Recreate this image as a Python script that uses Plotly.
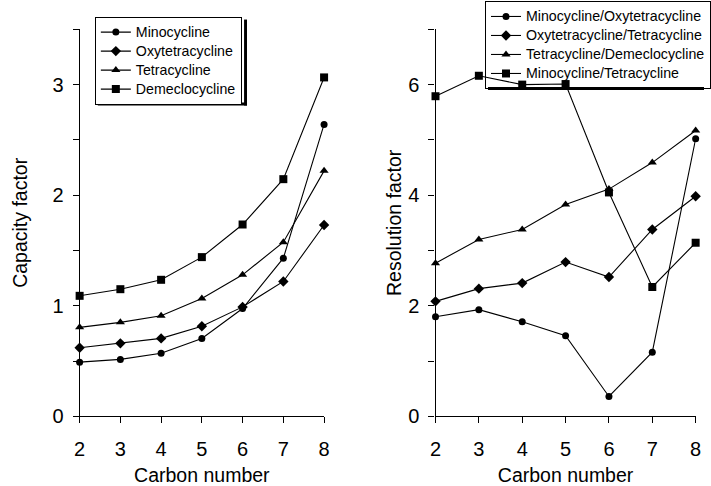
import plotly.graph_objects as go

carbon = [2, 3, 4, 5, 6, 7, 8]

# Capacity factor (left panel)
minocycline = [0.49, 0.515, 0.57, 0.705, 0.975, 1.43, 2.64]
oxytetracycline = [0.62, 0.66, 0.705, 0.815, 0.99, 1.22, 1.73]
tetracycline = [0.805, 0.85, 0.91, 1.065, 1.28, 1.575, 2.22]
demeclocycline = [1.09, 1.15, 1.235, 1.44, 1.735, 2.145, 3.065]

# Resolution factor (right panel)
mino_oxy = [1.80, 1.93, 1.71, 1.46, 0.36, 1.16, 5.02]
oxy_tet = [2.08, 2.31, 2.41, 2.79, 2.52, 3.38, 3.98]
tet_deme = [2.77, 3.20, 3.38, 3.83, 4.11, 4.59, 5.17]
mino_tet = [5.79, 6.16, 6.00, 6.01, 4.05, 2.34, 3.14]

left_names = ["Minocycline", "Oxytetracycline", "Tetracycline", "Demeclocycline"]
right_names = ["Minocycline/Oxytetracycline", "Oxytetracycline/Tetracycline",
               "Tetracycline/Demeclocycline", "Minocycline/Tetracycline"]
left_ticks = [0, 0.5, 1, 1.5, 2, 2.5, 3, 3.5]
left_ticktext = ["0", "", "1", "", "2", "", "3", ""]
right_ticks = [0, 1, 2, 3, 4, 5, 6, 7]
right_ticktext = ["0", "", "2", "", "4", "", "6", ""]

symbols = ["circle", "diamond", "triangle-up", "square"]
sizes = [7, 8, 8, 8]

FONT = "Liberation Sans, Arial, Helvetica, sans-serif"
LEG_PX = 14.2


def leg_label(t):
    return '<span style="font-size:%spx">%s</span>' % (LEG_PX, t)


fig = go.Figure()
for name, vals, sym, sz in zip(left_names, [minocycline, oxytetracycline, tetracycline, demeclocycline], symbols, sizes):
    fig.add_trace(go.Scatter(x=carbon, y=vals, name=leg_label(name), mode="lines+markers",
                             line=dict(color="black", width=1.1),
                             marker=dict(symbol=sym, size=sz, color="black"),
                             cliponaxis=False, xaxis="x", yaxis="y", legend="legend"))
for name, vals, sym, sz in zip(right_names, [mino_oxy, oxy_tet, tet_deme, mino_tet], symbols, sizes):
    fig.add_trace(go.Scatter(x=carbon, y=vals, name=leg_label(name), mode="lines+markers",
                             line=dict(color="black", width=1.1),
                             marker=dict(symbol=sym, size=sz, color="black"),
                             cliponaxis=False, xaxis="x2", yaxis="y2", legend="legend2"))

W, H = 711, 486


def px(x):
    return x / W


def py(y):
    return (H - y) / H


tickfont = dict(family=FONT, size=20, color="black")
titlefont = dict(family=FONT, size=19.5, color="black")

xcommon = dict(range=[2, 8], tickmode="array", tickvals=carbon, ticks="outside", ticklen=6,
               tickcolor="black", showline=True, linecolor="black", linewidth=1.2,
               showgrid=False, zeroline=False, tickfont=tickfont, ticklabelstandoff=9,
               title=dict(text="Carbon number", font=titlefont, standoff=12))
ycommon = dict(ticks="outside", ticklen=6, tickcolor="black", showline=True, linecolor="black",
               linewidth=1.2, showgrid=False, zeroline=False, tickfont=tickfont,
               tickmode="array", ticklabelstandoff=5)

# legend frame geometry (pixels) for drop shadows
L_x0, L_top, L_w, L_h = 90.5, 17, 152, 88
R_x0, R_top, R_w, R_h = 488, 1, 240, 88
SH = 3

fig.update_layout(
    width=W, height=H, margin=dict(l=0, r=0, t=0, b=0),
    paper_bgcolor="white", plot_bgcolor="white",
    font=dict(family=FONT, color="black"),
    xaxis=dict(domain=[px(75), px(324)], anchor="y", **xcommon),
    xaxis2=dict(domain=[px(437.5), px(702.5)], anchor="y2", **xcommon),
    yaxis=dict(domain=[py(426), py(30)], anchor="x", range=[0, 3.5], tickvals=left_ticks,
               ticktext=left_ticktext,
               title=dict(text="Capacity factor", font=titlefont, standoff=19), **ycommon),
    yaxis2=dict(domain=[py(426), py(30)], anchor="x2", range=[0, 7], tickvals=right_ticks,
                ticktext=right_ticktext,
                title=dict(text="Resolution factor", font=titlefont, standoff=1), **ycommon),
    legend=dict(x=px(L_x0), y=py(L_top), xanchor="left", yanchor="top", bgcolor="white",
                bordercolor="black", borderwidth=1, font=dict(family=FONT, size=12.3, color="black"),
                itemwidth=30, tracegroupgap=0),
    legend2=dict(x=px(R_x0), y=py(R_top), xanchor="left", yanchor="top", bgcolor="rgba(0,0,0,0)",
                 bordercolor="black", borderwidth=1, font=dict(family=FONT, size=12.3, color="black"),
                 itemwidth=30, tracegroupgap=0, entrywidth=200, entrywidthmode="pixels"),
    showlegend=True,
    shapes=[
        # left legend drop shadow (right and bottom strips)
        dict(type="rect", xref="paper", yref="paper", layer="below",
             x0=px(L_x0 + L_w), x1=px(L_x0 + L_w + SH), y0=py(L_top + L_h + SH), y1=py(L_top + SH),
             fillcolor="black", line=dict(width=0)),
        dict(type="rect", xref="paper", yref="paper", layer="below",
             x0=px(L_x0 + SH), x1=px(L_x0 + L_w + SH), y0=py(L_top + L_h + SH), y1=py(L_top + L_h),
             fillcolor="black", line=dict(width=0)),
        # right legend drop shadow (bottom strip)
        dict(type="rect", xref="paper", yref="paper", layer="below",
             x0=px(R_x0 + SH), x1=1, y0=py(R_top + R_h + SH), y1=py(R_top + R_h),
             fillcolor="black", line=dict(width=0)),
    ],
)

fig.write_html("out.html")
